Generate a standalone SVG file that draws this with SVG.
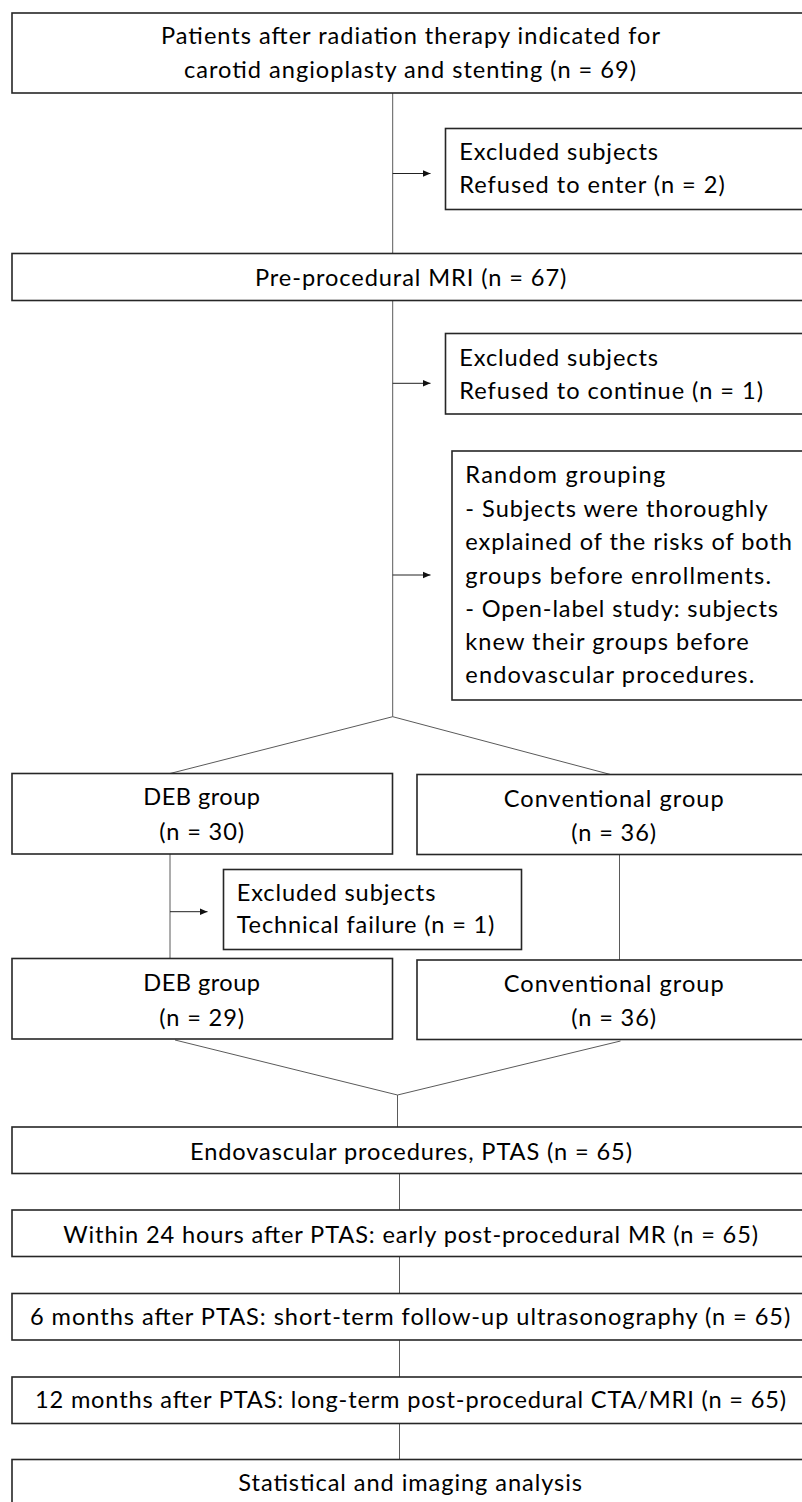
<svg xmlns="http://www.w3.org/2000/svg" width="802" height="1502" viewBox="0 0 802 1502">
<style>
.box{fill:#fff;stroke:#262626;stroke-width:1.6}
.t{font-family:Lato,"Open Sans","Liberation Sans",sans-serif;font-size:23.6px;fill:#000}
.c{fill:none;stroke:#5a5a5a;stroke-width:1}
.a{fill:none;stroke:#222;stroke-width:1;marker-end:url(#ah)}
</style>
<defs>
<marker id="ah" viewBox="0 0 8 8" refX="8" refY="4" markerWidth="8" markerHeight="8" markerUnits="userSpaceOnUse" orient="auto">
<path d="M0,0.6 L8,4 L0,7.4 Z" fill="#111"/>
</marker>
</defs>
<rect width="802" height="1502" fill="#fff"/>
<g id="connectors">
<line class="c" x1="392.7" y1="93" x2="392.7" y2="253.5"/>
<line class="a" x1="392.7" y1="173.5" x2="430.5" y2="173.5"/>
<line class="c" x1="392.7" y1="300.5" x2="392.7" y2="716.7"/>
<line class="a" x1="392.7" y1="383.3" x2="430.5" y2="383.3"/>
<line class="a" x1="392.7" y1="575" x2="430.5" y2="575"/>
<polyline class="c" points="170,773.5 392.7,716.7 610.5,774.5"/>
<line class="c" x1="170" y1="854" x2="170" y2="958.5"/>
<line class="a" x1="170" y1="911.7" x2="207.5" y2="911.7"/>
<line class="c" x1="619.5" y1="854.5" x2="619.5" y2="960"/>
<polyline class="c" points="175,1040 397.5,1095 620.5,1041"/>
<line class="c" x1="397.5" y1="1095" x2="397.5" y2="1127"/>
<line class="c" x1="399.5" y1="1173.5" x2="399.5" y2="1210"/>
<line class="c" x1="399.5" y1="1256.5" x2="399.5" y2="1293.5"/>
<line class="c" x1="399.5" y1="1340" x2="399.5" y2="1377"/>
<line class="c" x1="399.5" y1="1423.5" x2="399.5" y2="1459.5"/>
</g>
<g id="n-start">
<rect class="box" x="12" y="13" width="798" height="80"/>
<text class="t" x="161" y="44.3" textLength="499">Patients after radiation therapy indicated for</text>
<text class="t" x="184" y="77.7" textLength="452">carotid angioplasty and stenting (n = 69)</text>
</g>
<g id="n-excl1">
<rect class="box" x="445.5" y="128.5" width="365" height="81"/>
<text class="t" x="459.3" y="160" textLength="198.7">Excluded subjects</text>
<text class="t" x="459.3" y="193.3" textLength="265.4">Refused to enter (n = 2)</text>
</g>
<g id="n-premri">
<rect class="box" x="12" y="253.5" width="798" height="47"/>
<text class="t" x="255" y="286" textLength="311.3">Pre-procedural MRI (n = 67)</text>
</g>
<g id="n-excl2">
<rect class="box" x="445.5" y="333.5" width="365" height="80.5"/>
<text class="t" x="459.3" y="366" textLength="198.7">Excluded subjects</text>
<text class="t" x="459.3" y="399.3" textLength="303.7">Refused to continue (n = 1)</text>
</g>
<g id="n-random">
<rect class="box" x="452" y="451" width="358" height="249"/>
<text class="t" x="465.3" y="483.3" textLength="200">Random grouping</text>
<text class="t" x="465.3" y="516.7" textLength="302.3">- Subjects were thoroughly</text>
<text class="t" x="465.3" y="550" textLength="326.7">explained of the risks of both</text>
<text class="t" x="465.3" y="584" textLength="305.7">groups before enrollments.</text>
<text class="t" x="465.3" y="616.7" textLength="312.7">- Open-label study: subjects</text>
<text class="t" x="465.3" y="650" textLength="283.3">knew their groups before</text>
<text class="t" x="465.3" y="683.3" textLength="289">endovascular procedures.</text>
</g>
<g id="n-deb1">
<rect class="box" x="12" y="773.5" width="380.5" height="80.5"/>
<text class="t" x="143.3" y="805" textLength="116.7">DEB group</text>
<text class="t" x="159.3" y="840" textLength="84.7">(n = 30)</text>
</g>
<g id="n-conv1">
<rect class="box" x="417" y="774.5" width="393" height="80"/>
<text class="t" x="503.7" y="806.7" textLength="220">Conventional group</text>
<text class="t" x="571.3" y="840.7" textLength="84.7">(n = 36)</text>
</g>
<g id="n-excl3">
<rect class="box" x="223.5" y="869.5" width="298" height="80"/>
<text class="t" x="236.7" y="900.7" textLength="198.7">Excluded subjects</text>
<text class="t" x="236.7" y="933.3" textLength="257.7">Technical failure (n = 1)</text>
</g>
<g id="n-deb2">
<rect class="box" x="12" y="958.5" width="380.5" height="80.5"/>
<text class="t" x="143.3" y="991" textLength="116.7">DEB group</text>
<text class="t" x="159.3" y="1026" textLength="84.7">(n = 29)</text>
</g>
<g id="n-conv2">
<rect class="box" x="417" y="960" width="393" height="79.5"/>
<text class="t" x="503.7" y="991.7" textLength="220">Conventional group</text>
<text class="t" x="571.3" y="1026" textLength="84.7">(n = 36)</text>
</g>
<g id="n-ptas">
<rect class="box" x="12" y="1127" width="798" height="46.5"/>
<text class="t" x="190" y="1160" textLength="442">Endovascular procedures, PTAS (n = 65)</text>
</g>
<g id="n-24h">
<rect class="box" x="12" y="1210" width="798" height="46.5"/>
<text class="t" x="63.3" y="1242.7" textLength="694.7">Within 24 hours after PTAS: early post-procedural MR (n = 65)</text>
</g>
<g id="n-6m">
<rect class="box" x="12" y="1293.5" width="798" height="46.5"/>
<text class="t" x="30" y="1325" textLength="760.3">6 months after PTAS: short-term follow-up ultrasonography (n = 65)</text>
</g>
<g id="n-12m">
<rect class="box" x="12" y="1377" width="798" height="46.5"/>
<text class="t" x="35" y="1408.3" textLength="751">12 months after PTAS: long-term post-procedural CTA/MRI (n = 65)</text>
</g>
<g id="n-stats">
<rect class="box" x="12" y="1459.5" width="798" height="50"/>
<text class="t" x="238.3" y="1490.7" textLength="343.7">Statistical and imaging analysis</text>
</g>
</svg>
